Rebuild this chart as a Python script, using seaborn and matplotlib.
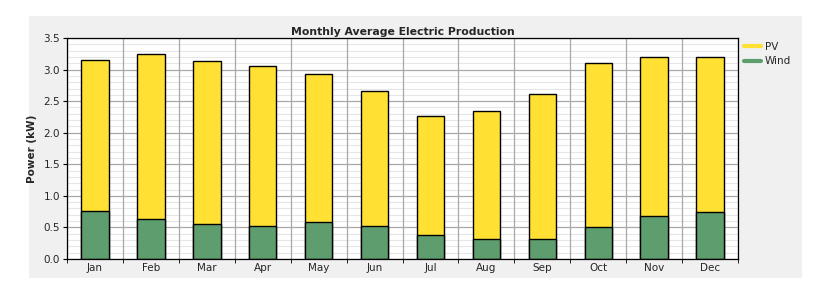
import matplotlib
matplotlib.use("Agg")
import matplotlib.pyplot as plt
from matplotlib.lines import Line2D
from matplotlib.ticker import MultipleLocator
import numpy as np
import pandas as pd
import seaborn as sns

months = ["Jan", "Feb", "Mar", "Apr", "May", "Jun",
          "Jul", "Aug", "Sep", "Oct", "Nov", "Dec"]
wind = [0.76, 0.63, 0.56, 0.52, 0.59, 0.52, 0.38, 0.31, 0.32, 0.50, 0.68, 0.75]
pv = [2.39, 2.61, 2.57, 2.54, 2.34, 2.14, 1.89, 2.03, 2.29, 2.61, 2.52, 2.45]

pv_color = "#FFE033"
wind_color = "#5E9E6E"

df = pd.DataFrame({"Month": months, "Wind": wind, "PV": pv})
df["Total"] = df["Wind"] + df["PV"]

sns.set_style("white")
plt.rcParams["font.family"] = ["DejaVu Sans"]

fig = plt.figure(figsize=(8.4, 3.01), dpi=100)
fig.patch.set_facecolor("white")

# gray panel behind the chart
bg = fig.add_axes([0.0345, 0.0764, 0.9205, 0.8706])
bg.set_facecolor("#F0F0F0")
bg.set_xticks([])
bg.set_yticks([])
for s in bg.spines.values():
    s.set_visible(False)

ax = fig.add_axes([0.0798, 0.1395, 0.7988, 0.7343])
ax.set_facecolor("white")

sns.barplot(data=df, x="Month", y="Total", color=pv_color, width=0.49,
            edgecolor="black", linewidth=1.0, saturation=1, ax=ax, zorder=3)
sns.barplot(data=df, x="Month", y="Wind", color=wind_color, width=0.49,
            edgecolor="black", linewidth=1.0, saturation=1, ax=ax, zorder=4)

ax.set_xlim(-0.5, 11.5)
ax.set_ylim(0, 3.5)
ax.yaxis.set_major_locator(MultipleLocator(0.5))
ax.yaxis.set_minor_locator(MultipleLocator(0.1))
ax.set_yticks(np.arange(0, 3.51, 0.5))
ax.set_yticklabels([f"{v:.1f}" for v in np.arange(0, 3.51, 0.5)])
ax.set_xticks(np.arange(-0.5, 12, 1), minor=True)

ax.grid(which="minor", axis="y", color="#E6E6E6", linewidth=0.8)
ax.grid(which="major", axis="y", color="#A8A8A8", linewidth=0.9)
ax.set_axisbelow(True)
# category separators, drawn over the horizontal grid
for xb in ax.get_xticks(minor=True):
    ax.axvline(xb, color="#A8A8A8", linewidth=0.9, zorder=1)

ax.tick_params(axis="x", which="major", length=0, labelsize=7.5, pad=3)
ax.tick_params(axis="x", which="minor", length=3, direction="out", color="black", bottom=True)
ax.tick_params(axis="y", which="major", length=3, direction="out", color="black",
               labelsize=7.5, pad=2, left=True)
ax.tick_params(axis="y", which="minor", length=0)

for s in ax.spines.values():
    s.set_color("black")
    s.set_linewidth(0.9)
    s.set_zorder(5)

ax.set_xlabel("")
ax.set_ylabel("Power (kW)", fontsize=7.5, fontweight="bold", labelpad=5)
ax.set_title("Monthly Average Electric Production", fontsize=7.8,
             fontweight="bold", pad=2)

handles = [Line2D([0], [0], color=pv_color, linewidth=3),
           Line2D([0], [0], color=wind_color, linewidth=3)]
ax.legend(handles, ["PV", "Wind"], loc="upper left", bbox_to_anchor=(1.0, 1.01),
          frameon=False, fontsize=7.5, handlelength=1.6, handletextpad=0.4,
          labelspacing=0.4, borderaxespad=0.2)

fig.savefig("out.png", dpi=100, facecolor=fig.get_facecolor())
